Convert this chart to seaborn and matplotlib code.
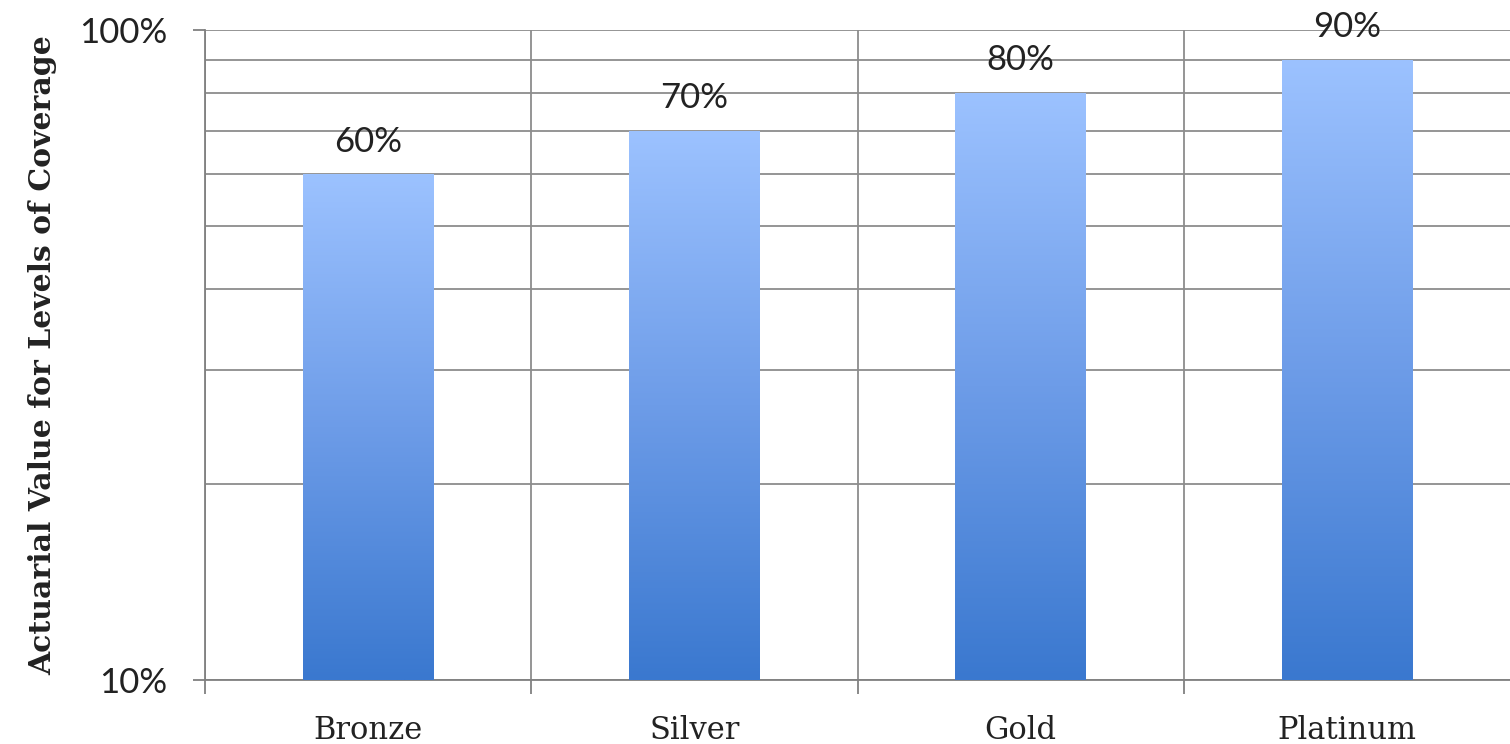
import numpy as np
import pandas as pd
import matplotlib
matplotlib.use("Agg")
import matplotlib.pyplot as plt
import seaborn as sns
from matplotlib.colors import LinearSegmentedColormap

categories = ["Bronze", "Silver", "Gold", "Platinum"]
values = [60, 70, 80, 90]
value_labels = ["60%", "70%", "80%", "90%"]
y_label = "Actuarial Value for Levels of Coverage"
ytick_values = [10, 100]
ytick_labels = ["10%", "100%"]

sns.set_style("white")

df = pd.DataFrame({"level": categories, "value": values})

fig = plt.figure(figsize=(15.1, 7.44), dpi=100)
ax = fig.add_axes([205 / 1510, 64 / 744, 1 - 205 / 1510, (680 - 30) / 744])

sns.barplot(data=df, x="level", y="value", ax=ax, width=0.4, color="#6a9be6",
            edgecolor="none", linewidth=0, zorder=3)

ax.set_yscale("log")
ax.set_ylim(10, 100)
ax.set_xlim(-0.5, 3.5)

# gradient fill
cmap = LinearSegmentedColormap.from_list("g", ["#3a78cf", "#6d9ce8", "#9cc2ff"])
grad = np.linspace(0, 1, 256).reshape(-1, 1)
to_axes = ax.transData + ax.transAxes.inverted()
for p in ax.patches:
    x0, y0 = p.get_x(), 10
    x1, y1 = p.get_x() + p.get_width(), p.get_y() + p.get_height()
    (ax0, ay0), (ax1, ay1) = to_axes.transform([(x0, y0), (x1, y1)])
    im = ax.imshow(grad, cmap=cmap, origin="lower", aspect="auto",
                   extent=[ax0, ax1, ay0, ay1], transform=ax.transAxes,
                   zorder=4, interpolation="bilinear")
    im.set_clip_path(p)
    p.set_facecolor("none")

ax.set_xlim(-0.5, 3.5)
ax.set_ylim(10, 100)

# bar value labels
for i, (v, lab) in enumerate(zip(values, value_labels)):
    ax.annotate(lab, xy=(i, v), xytext=(0, 12), textcoords="offset points",
                ha="center", va="bottom", fontsize=25, family="Lato", color="#222222",
                zorder=6)

# y ticks
ax.yaxis.set_major_locator(matplotlib.ticker.FixedLocator(ytick_values))
ax.yaxis.set_major_formatter(matplotlib.ticker.FixedFormatter(ytick_labels))
ax.yaxis.set_minor_locator(matplotlib.ticker.FixedLocator([20, 30, 40, 50, 60, 70, 80, 90]))
ax.yaxis.set_minor_formatter(matplotlib.ticker.NullFormatter())
ax.tick_params(axis="y", which="major", length=9, width=1.3, color="#808080",
               labelsize=25, pad=18, left=True)
ax.tick_params(axis="y", which="minor", length=0)
for t in ax.get_yticklabels():
    t.set_family("Lato")
    t.set_color("#222222")

# x ticks
ax.set_xticks(range(len(categories)))
ax.set_xticklabels(categories)
ax.xaxis.set_minor_locator(matplotlib.ticker.FixedLocator([-0.5, 0.5, 1.5, 2.5]))
ax.tick_params(axis="x", which="major", length=0, labelsize=22, pad=25)
ax.tick_params(axis="x", which="minor", length=10, width=1.3, color="#808080", bottom=True)
for t in ax.get_xticklabels():
    t.set_family("DejaVu Serif")
    t.set_color("#222222")

ax.grid(True, axis="y", which="both", color="#8c8c8c", linewidth=1.3, zorder=1)
ax.grid(True, axis="x", which="minor", color="#8c8c8c", linewidth=1.3, zorder=1)
ax.grid(False, axis="x", which="major")
ax.set_axisbelow(True)

ax.set_xlabel("")
ax.set_ylabel(y_label, fontsize=21.5, family="DejaVu Serif", fontweight="bold",
              color="#222222", labelpad=16)

for s in ["top", "right"]:
    ax.spines[s].set_visible(False)
for s in ["left", "bottom"]:
    ax.spines[s].set_color("#808080")
    ax.spines[s].set_linewidth(1.3)

fig.savefig("out.png", dpi=100, facecolor="white")
